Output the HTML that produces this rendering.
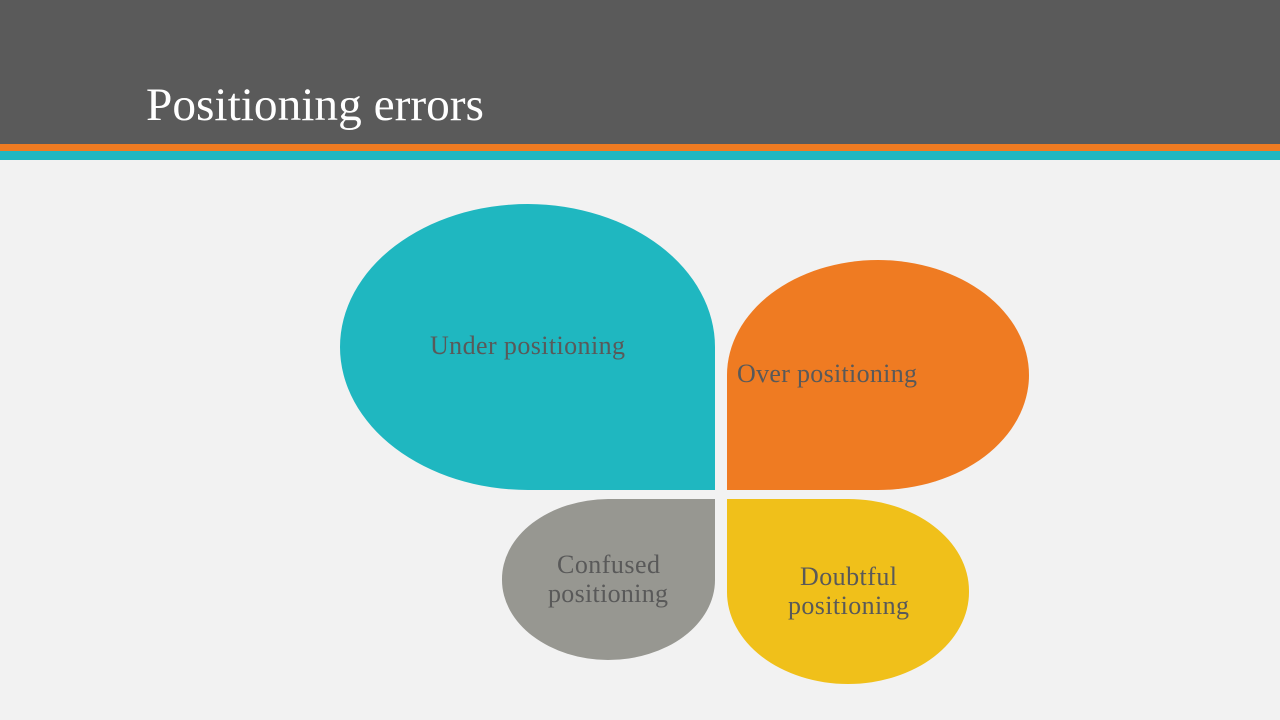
<!DOCTYPE html>
<html><head><meta charset="utf-8"><style>
html,body{margin:0;padding:0;width:1280px;height:720px;overflow:hidden;background:#f2f2f2;}
</style></head><body>
<svg width="1280" height="720" xmlns="http://www.w3.org/2000/svg" style="display:block">
<rect x="0" y="0" width="1280" height="720" fill="#f2f2f2"/>
<rect x="0" y="0" width="1280" height="144" fill="#5a5a5a"/>
<rect x="0" y="144" width="1280" height="7" fill="#ef7b22"/>
<rect x="0" y="151" width="1280" height="9" fill="#1fb7c0"/>
<text x="146" y="120" font-family="Liberation Serif, serif" font-size="47" fill="#ffffff" textLength="338" lengthAdjust="spacingAndGlyphs">Positioning errors</text>

<path d="M528,204 A188,143 0 0 0 340,347 A188,143 0 0 0 528,490 L715,490 L715,347 A188,143 0 0 0 528,204 Z" fill="#1fb7c0"/>
<path d="M878,260 A151,115 0 0 1 1029,375 A151,115 0 0 1 878,490 L727,490 L727,375 A151,115 0 0 1 878,260 Z" fill="#ef7b22"/>
<path d="M608,499 L715,499 L715,580 A107,80 0 0 1 608,660 A107,80 0 0 1 502,580 A107,80 0 0 1 608,499 Z" fill="#979791"/>
<path d="M727,499 L848,499 A121,92 0 0 1 969,591 A121,92 0 0 1 848,684 A121,92 0 0 1 727,591 Z" fill="#f0c01a"/>

<g font-family="Liberation Serif, serif" font-size="26" fill="#595959" lengthAdjust="spacingAndGlyphs">
<text x="430" y="354" textLength="195">Under positioning</text>
<text x="737" y="382" textLength="180">Over positioning</text>
<text x="557" y="573" textLength="103">Confused</text>
<text x="548" y="602" textLength="120">positioning</text>
<text x="800" y="585" textLength="97">Doubtful</text>
<text x="788" y="614" textLength="121">positioning</text>
</g>
</svg>
</body></html>
